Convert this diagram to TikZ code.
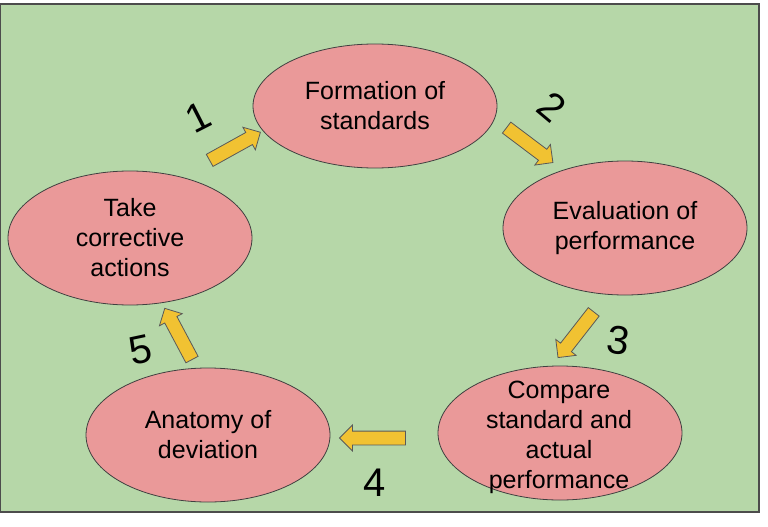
\documentclass[tikz,border=0pt]{standalone}
\usepackage{fontspec}
\setmainfont{Liberation Sans}
\usetikzlibrary{shapes.geometric,shapes.arrows}
\definecolor{bggreen}{HTML}{B6D7A8}
\definecolor{stagepink}{HTML}{EA9999}
\definecolor{arrowgold}{HTML}{F1C232}

\begin{document}
\begin{tikzpicture}[x=1pt, y=-1pt, every node/.style={align=center},
    stage/.style={ellipse, draw=black!75, line width=0.8pt, fill=stagepink, inner sep=0pt,
        minimum width=244pt, minimum height=134pt, font=\fontsize{25}{30}\selectfont},
    blk/.style={single arrow, draw=black!65, line width=0.8pt, fill=arrowgold, inner xsep=0pt,
        inner ysep=6.5pt, single arrow head extend=6pt, minimum height=58pt},
    num/.style={font=\fontsize{40}{40}\selectfont}]
    \useasboundingbox (0,0) rectangle (768,527);
    \draw[draw=black!70, line width=1.5pt, fill=bggreen] (0,4) rectangle (759,512);
    % the five stages
    \node (form) [stage, minimum height=124pt] at (375,106) {Formation of\\standards};
    \node (eval) [stage] at (625,228) {Evaluation of\\performance};
    \node (comp) [stage] at (560,433) {};
    \node [font=\fontsize{25}{30}\selectfont] at (559,437) {Compare\\standard and\\actual\\performance};
    \node (anat) [stage] at (208,435) {Anatomy of\\deviation};
    \node (take) [stage] at (130,238) {Take\\corrective\\actions};
    % block arrows between them
    \node (a1) [blk, rotate=29] at (232,148) {};
    \node (a2) [blk, rotate=-37] at (527,143) {};
    \node (a3) [blk, rotate=-128] at (578,332) {};
    \node (a4) [blk, rotate=180, minimum height=66pt] at (376,438) {};
    \node (a5) [blk, rotate=118] at (180,337) {};
    % step numbers
    \node (n1) [num, rotate=27] at (198,117) {1};
    \node (n2) [num, rotate=-40] at (552,107) {2};
    \node (n3) [num, rotate=-8] at (618,340) {3};
    \node (n4) [num] at (375,483) {4};
    \node (n5) [num, rotate=12] at (141,350) {5};
\end{tikzpicture}
\end{document}
